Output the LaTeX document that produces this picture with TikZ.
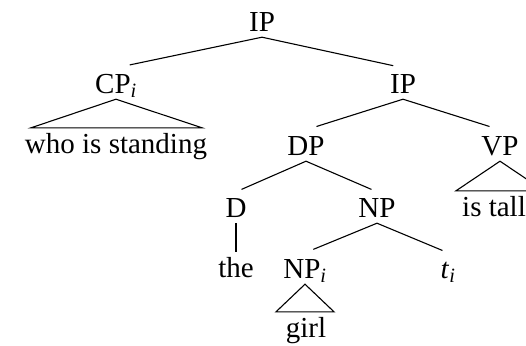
\documentclass[tikz,border=0pt]{standalone}
\usepackage{fontspec}
\setmainfont{Liberation Serif}
\usetikzlibrary{calc}
\newcommand{\idx}[1]{\textsubscript{\itshape #1}}
\tikzset{
  cat/.style    = {anchor=base, inner sep=0pt, inner ysep=6pt,
                   text height=19pt, text depth=0pt},
  branch/.style = {line width=1.1pt, shorten >=#1},
  branch/.default = 8pt,
  roof/.style   = {line width=1.1pt, line join=miter},
}

\begin{document}
\begin{tikzpicture}[x=1pt, y=-1pt, font=\fontsize{29}{34}\selectfont]
    \clip (0,0) rectangle (526,345);
    \useasboundingbox (0,0) rectangle (526,345);

    % --- categories
    \node[cat] (root) at (262,31)  {IP};
    \node[cat] (cp)   at (116,93)  {CP\idx{i}};
    \node[cat] (ip)   at (403,93)  {IP};
    \node[cat] (dp)   at (306,155) {DP};
    \node[cat] (vp)   at (500,155) {VP};
    \node[cat] (d)    at (236,217) {D};
    \node[cat] (np)   at (377,217) {NP};
    \node[cat] (npi)  at (305,278) {NP\idx{i}};
    \node[cat] (trace) at (448,278) {\textit{t}\idx{i}};

    % --- words
    \node[cat] (who)  at (116,153) {who is standing};
    \node[cat] (tall) at (494,216) {is tall};
    \node[cat] (the)  at (236,277) {the};
    \node[cat] (girl) at (306,337) {girl};

    % --- branches
    \draw[branch=14pt] (root.south) -- (cp.north);
    \draw[branch=10pt] (root.south) -- (ip.north);
    \draw[branch=11pt] (ip.south) -- (dp.north);
    \draw[branch=11pt] (ip.south) -- (vp.north);
    \draw[branch=6pt]  (dp.south) -- (d.north);
    \draw[branch=6pt]  (dp.south) -- (np.north);
    \draw[branch=0pt]  (d.south) -- (the.north);
    \draw[branch=9pt]  (np.south) -- (npi.north);
    \draw[branch=6pt]  (np.south) -- (trace.north);

    % --- roofs
    \draw[roof] (cp.south) -- ($(cp.south |- who.north)+(-85,0)$) -- ++(171,0) -- cycle;
    \draw[roof] (vp.south) -- ($(vp.south |- tall.north)+(-44,0)$) -- ++(88,0) -- cycle;
    \draw[roof] (npi.south) -- ($(npi.south |- girl.north)+(-29,0)$) -- ++(58,0) -- cycle;
\end{tikzpicture}
\end{document}
